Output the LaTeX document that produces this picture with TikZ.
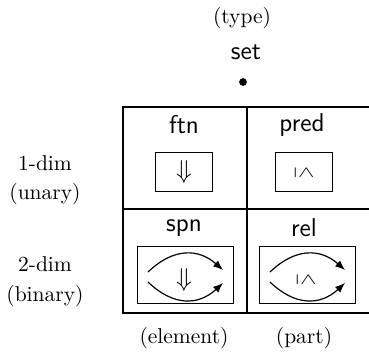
\documentclass[tikz,border=0pt]{standalone}
\usetikzlibrary{arrows.meta}
\begin{document}
\begin{tikzpicture}[x=0.465pt,y=-0.465pt,
  serif/.style={font=\fontsize{10}{12}\selectfont, inner sep=0pt},
  sanslbl/.style={font=\sffamily\fontsize{12}{14}\selectfont, inner sep=0pt},
  cellbox/.style={draw, line width=0.45pt, inner sep=0pt},
  smallbox/.style={cellbox, minimum width=26.5pt, minimum height=17.7pt},
  bigbox/.style={cellbox, minimum width=44.2pt, minimum height=26.5pt},
  grid/.style={line width=0.5pt},
  arc/.style={line width=0.55pt, -{Latex[length=4.6pt,width=3.6pt]}},
  dbl/.style={inner sep=0pt, font=\fontsize{12.5}{14}\selectfont},
  leqsym/.style={inner sep=0pt, font=\fontsize{10}{12}\selectfont}]
\useasboundingbox (0,0) rectangle (369,356);

% header
\node[serif] (type) at (242,18) {(type)};
\node[sanslbl] (set) at (246,52) {set};
\node[circle, fill, inner sep=0pt, minimum size=3.6pt] (dot) at (243,82) {};

% table grid
\coordinate (tl) at (123,107);
\coordinate (bl) at (123,313);
\coordinate (tm) at (247,107);
\coordinate (bm) at (247,313);
\coordinate (ml) at (123,209);
\coordinate (tr) at (369,107);
\coordinate (mr) at (369,209);
\coordinate (br) at (369,313);
\draw[grid] (tr) -- (tl) -- (bl) -- (br);
\draw[grid] (ml) -- (mr);
\draw[grid] (tm) -- (bm);

% row labels
\node[serif] (r1a) at (45,163) {1-dim};
\node[serif] (r1b) at (45,194) {(unary)};
\node[serif] (r2a) at (45,264) {2-dim};
\node[serif] (r2b) at (45,296) {(binary)};

% column labels
\node[serif] (c1) at (184,338) {(element)};
\node[serif] (c2) at (304,338) {(part)};

% cell titles
\node[sanslbl] (ftn) at (184,125) {ftn};
\node[sanslbl] (pred) at (302,125) {pred};
\node[sanslbl] (spn) at (184,228) {spn};
\node[sanslbl] (rel) at (304,228) {rel};

% 1-dim boxes
\node[smallbox] (fbox) at (183.5,172) {};
\node[dbl] (fsym) at (184,172) {$\Downarrow$};
\node[smallbox] (pbox) at (303.5,172) {};
\node[leqsym] (psym) at (304,173) {\scalebox{1.1}[0.75]{\rotatebox{-90}{$\leq$}}};

% 2-dim boxes
\node[bigbox] (sbox) at (185.5,274.5) {};
\node[dbl] (ssym) at (184,280) {$\Downarrow$};
\draw[arc] (148,272) .. controls (173,248) and (198,248) .. (223,270);
\draw[arc] (148,282) .. controls (173,306) and (198,306) .. (223,283);

\node[bigbox] (rbox) at (307.5,274.5) {};
\node[leqsym] (rsym) at (306,280) {\scalebox{1.1}[0.75]{\rotatebox{-90}{$\leq$}}};
\draw[arc] (270,272) .. controls (295,248) and (320,248) .. (345,270);
\draw[arc] (270,282) .. controls (295,306) and (320,306) .. (345,283);
\end{tikzpicture}
\end{document}
